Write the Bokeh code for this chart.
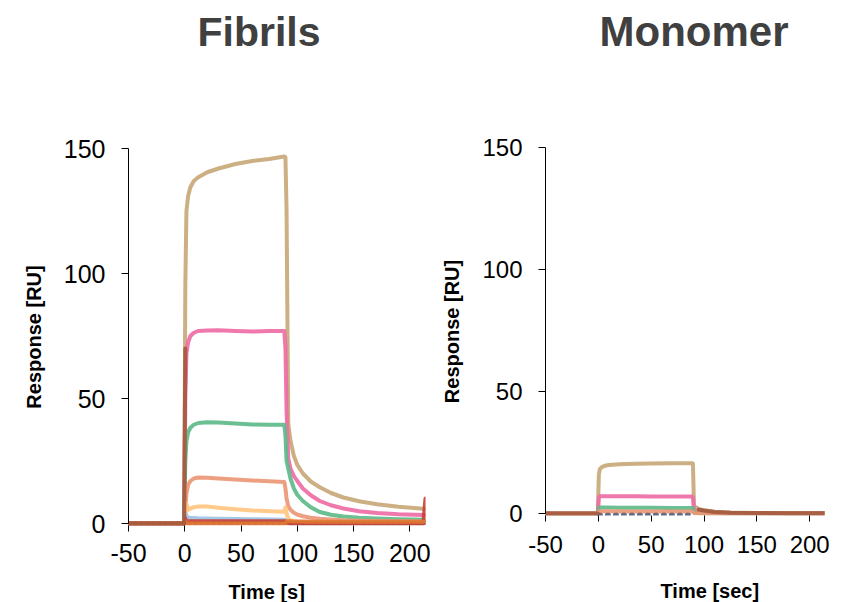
import numpy as np
from bokeh.plotting import figure
from bokeh.layouts import row, column
from bokeh.models import FixedTicker, Range1d, Title
from bokeh.embed import file_html
from bokeh.resources import INLINE

nan = float("nan")

# ---------------- data: Fibrils ----------------
fib_time = [-50, -0.5, 0.5, 1.5, 3, 5, 8, 12, 20, 30, 45, 60, 75, 88.5, 89.5,
            90.5, 92, 94, 97, 100, 105, 112, 120, 130, 141, 155, 171, 190, 212, 214]
fib_tan = [0, 0, 95, 125, 131, 134.5, 137, 138.5, 140.5, 142, 143.8, 145, 145.8, 146.8, 146.5,
           125, 40, 33, 27, 23.5, 20, 16.8, 14.5, 12.2, 10.4, 8.9, 7.7, 6.7, 5.9, 5.9]
fib_pink = [0, 0, 50, 68, 72.5, 75, 76.3, 77, 77.2, 77.3, 77, 76.8, 77, 77, 70,
            45, 26, 22, 19, 17, 14, 11.3, 9, 7.3, 6, 4.9, 4.2, 3.7, 3.4, 3.4]
fib_green = [0, 0, 25, 33, 36.5, 38.3, 39.5, 40.2, 40.5, 40.4, 40, 39.6, 39.5, 39.5, 35,
             25, 22, 18, 14, 11.5, 9, 6.5, 4.6, 3.5, 2.8, 2.3, 2.0, 1.7, 1.5, 1.5]
fib_salmon = [0, 0, 6, 12, 15.5, 17, 18, 18.4, 18.3, 18, 17.6, 17.2, 16.9, 16.6, 14,
              10, 7, 5.5, 4.3, 3.6, 2.9, 2.3, 1.9, 1.6, 1.3, 1.1, 1.0, 0.9, 0.8, 0.8]
fib_lorange = [0, 0, 2, 8, 5.5, 6, 6.5, 6.8, 6.8, 6.3, 5.7, 5.2, 4.9, 4.7, 6.5,
               4, 2, 1.3, 0.9, 0.7, 0.6, 0.5, 0.5, 0.5, 0.4, 0.4, 0.4, 0.4, 0.4, 0.4]
fib_lblue = [0, 0, 4, 3, 2.4, 2.2, 2.2, 2.1, 2.0, 1.9, 1.8, 1.7, 1.6, 1.5, 1.2,
             0.5, 0.2, 0.1, 0.1, 0.1, 0.1, 0.1, 0.1, 0.1, 0.1, 0.1, 0.1, 0.1, 0.1, 0.1]
fib_slate = [0, 0, 0.2, 0.2, 0.2, 0.2, 0.2, 0.2, 0.2, 0.2, 0.2, 0.2, 0.2, 0.2, 0.2,
             0.2, 0.2, 0.2, 0.2, 0.2, 0.2, 0.2, 0.2, 0.2, 0.2, 0.2, 0.2, 0.2, 0.2, 0.2]
fib_red = [0, 0, 2, 1.0, 0.9, 0.9, 0.9, 0.9, 0.9, 0.9, 0.9, 0.9, 0.9, 0.9, 0.9,
           0.3, 0.1, 0, 0, 0, 0, 0, 0, 0, 0, 0, 0, 0, 0, 10]
fib_dorange = [0, 0, 1.0, 0.2, 0, 0, 0, 0, 0, 0, 0, 0, 0, 0, 0,
               0.8, 0.9, 0.9, 0.8, 0.8, 0.8, 0.7, 0.7, 0.7, 0.7, 0.7, 0.7, 0.7, 0.7, 0.7]
fib_brown = [0, 0, 70, nan, nan, nan, nan, nan, nan, nan, nan, nan, nan, nan, nan,
             nan, nan, nan, nan, nan, nan, nan, nan, nan, nan, nan, nan, nan, nan, nan]

# ---------------- data: Monomer ----------------
mono_time = [-50, -0.5, 0.5, 1.5, 3, 6, 10, 20, 35, 50, 70, 88.5, 89.5, 90.5,
             92, 95, 100, 110, 125, 150, 180, 214]
mono_tan = [0, 0, 16, 18.3, 18.9, 19.6, 19.9, 20.2, 20.4, 20.5, 20.6, 20.6, 20.5, 3.5,
            2.5, 1.9, 1.3, 0.7, 0.4, 0.2, 0.1, 0.1]
mono_pink = [0, 0, 6.5, 7.1, 7.1, 7.1, 7.1, 7.1, 7.1, 7.0, 7.0, 7.0, 6.5, 1.5,
             0.8, 0.5, 0.3, 0.2, 0.1, 0.1, 0.1, 0.1]
mono_green = [0, 0, 2.2, 2.5, 2.5, 2.5, 2.5, 2.4, 2.4, 2.4, 2.3, 2.3, 2.1, 0.5,
              0.3, 0.2, 0.1, 0.1, 0.1, 0.1, 0.1, 0.1]
mono_salmon = [0, 0, 0.8, 0.9, 0.9, 0.9, 0.9, 0.8, 0.8, 0.8, 0.8, 0.8, 0.7, 0.2,
               0.1, 0.1, 0, 0, 0, 0, 0, 0]
mono_slate = [nan, nan, -0.5, -0.5, -0.5, -0.5, -0.5, -0.5, -0.5, -0.5, -0.5, -0.5, -0.5, nan,
              nan, nan, nan, nan, nan, nan, nan, nan]
mono_brown = [0, 0, nan, nan, nan, nan, nan, nan, nan, nan, nan, nan, nan, nan,
              nan, 1.6, 1.2, 0.6, 0.3, 0.2, 0.1, 0.1]

x_ticks = [-50, 0, 50, 100, 150, 200]
y_ticks = [0, 50, 100, 150]
x_tick_text = {-50: "-50"}

COL = {
    "tan": "#C8A878", "pink": "#EE6CA5", "green": "#5EBA89", "salmon": "#EC9876",
    "lorange": "#FFC680", "lblue": "#9DC3E6", "slate": "#55617E", "dorange": "#E07632",
    "red": "#C84137", "brown": "#A55A3E",
}

FONT = "Liberation Sans"


def style(p, tick_size, x_standoff):
    p.grid.visible = False
    p.outline_line_color = None
    p.background_fill_color = "white"
    p.border_fill_color = "white"
    p.xaxis.ticker = FixedTicker(ticks=x_ticks)
    p.yaxis.ticker = FixedTicker(ticks=y_ticks)
    p.xaxis.major_label_overrides = x_tick_text
    p.yaxis.bounds = (0, 150)
    for ax in (p.xaxis[0], p.yaxis[0]):
        ax.major_label_text_font = FONT
        ax.major_label_text_font_size = tick_size
        ax.major_label_text_color = "black"
        ax.major_tick_in = 0
        ax.minor_tick_line_color = None
        ax.major_tick_line_color = "black"
        ax.axis_line_color = "black"
    p.xaxis.axis_line_color = None
    p.xaxis.major_tick_out = 6
    p.yaxis.major_tick_out = 7
    p.yaxis.major_label_standoff = 16
    p.xaxis.major_label_standoff = x_standoff
    p.yaxis.axis_label = "Response [RU]"
    p.yaxis.axis_label_text_font = FONT
    p.yaxis.axis_label_text_font_style = "bold"
    p.yaxis.axis_label_text_font_size = "20px"
    p.yaxis.axis_label_text_color = "black"
    p.yaxis.axis_label_standoff = 16


def spacer(p, size, side):
    p.add_layout(Title(text=" ", text_font_size="1px", standoff=size), side)


def add_title(p, text, size, offset, gap):
    # invisible spacer next to the frame, then the title above it
    spacer(p, gap, "above")
    p.add_layout(Title(text=text, align="left", offset=offset, standoff=10,
                       text_font=FONT, text_font_size=size, text_font_style="bold",
                       text_color="#404040"), "above")


def add_xlabel(p, text, offset, gap):
    spacer(p, gap, "below")
    p.add_layout(Title(text=text, align="left", offset=offset, standoff=0,
                       text_font=FONT, text_font_size="20px", text_font_style="bold",
                       text_color="black"), "below")


def draw(p, t, series, widths=4):
    t = np.array(t, dtype=float)
    for name, vals, dash in series:
        p.line(t, np.array(vals, dtype=float), line_color=COL[name], line_width=widths,
               line_alpha=0.92, line_dash=dash, line_join="round", line_cap="round")


# ---------------- Fibrils panel ----------------
p1 = figure(width=438, height=602, output_backend="svg", toolbar_location=None, title=None,
            x_range=Range1d(-50, 214), y_range=Range1d(-0.8, 150),
            min_border_left=128, min_border_right=13, min_border_top=148, min_border_bottom=77)
style(p1, "25px", 12)
draw(p1, fib_time, [
    ("tan", fib_tan, "solid"), ("pink", fib_pink, "solid"), ("green", fib_green, "solid"),
    ("salmon", fib_salmon, "solid"), ("lorange", fib_lorange, "solid"),
    ("lblue", fib_lblue, "solid"), ("slate", fib_slate, "2 4"),
    ("red", fib_red, "solid"), ("dorange", fib_dorange, "solid"), ("brown", fib_brown, "solid"),
])
add_title(p1, "Fibrils", "41px", 69, 86)
add_xlabel(p1, "Time [s]", 100, 11)

# ---------------- Monomer panel ----------------
p2 = figure(width=415, height=602, output_backend="svg", toolbar_location=None, title=None,
            x_range=Range1d(-50, 214), y_range=Range1d(-0.82, 150),
            min_border_left=104, min_border_right=29, min_border_top=147, min_border_bottom=87)
style(p2, "24px", 14)
draw(p2, mono_time, [
    ("tan", mono_tan, "solid"), ("pink", mono_pink, "solid"), ("green", mono_green, "solid"),
    ("salmon", mono_salmon, "solid"), ("slate", mono_slate, "2 6"), ("brown", mono_brown, "solid"),
])
add_title(p2, "Monomer", "42px", 54, 85)
add_xlabel(p2, "Time [sec]", 115, 19)

layout = row(column(p1), column(p2))
open("out.html", "w").write(file_html(layout, INLINE))
